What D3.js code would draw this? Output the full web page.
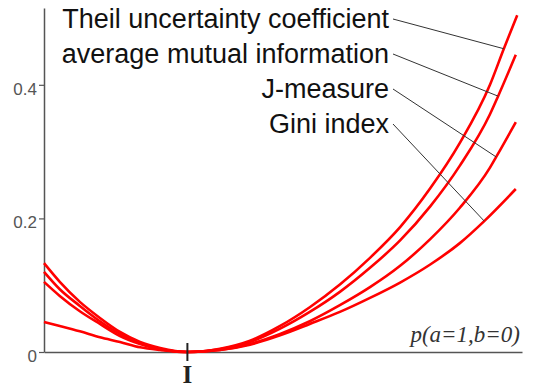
<!DOCTYPE html>
<HTML>
<HEAD>
<TITLE>Measures vs p(a=1,b=0)</TITLE>
<STYLE>
body { margin: 0; background: #fff; }
</STYLE>
<SCRIPT type="text/javascript" src="https://d3js.org/d3.v7.min.js"></SCRIPT>
</HEAD>
<BODY>
<svg id="chart" width="536" height="387"></svg>
<SCRIPT type="text/javascript">
// curve values: [p(a=1,b=0) scaled 0..1, measure]
const theil = [[0,0.133],[0.033,0.105],[0.075,0.075],[0.117,0.051],[0.159,0.030],[0.201,0.015],[0.243,0.006],[0.3,0],
               [0.368,0.005],[0.431,0.017],[0.494,0.039],[0.556,0.067],[0.619,0.101],[0.682,0.141],[0.745,0.187],
               [0.808,0.245],[0.870,0.313],[0.933,0.400],[0.962,0.454],[0.990,0.504]];
const ami   = [[0,0.120],[0.033,0.094],[0.075,0.069],[0.117,0.046],[0.159,0.027],[0.201,0.013],[0.243,0.004],[0.3,0],
               [0.368,0.004],[0.431,0.015],[0.494,0.035],[0.556,0.060],[0.619,0.090],[0.682,0.126],[0.745,0.167],
               [0.808,0.218],[0.870,0.279],[0.933,0.356],[0.950,0.383],[0.987,0.445]];
const jmeas = [[0,0.105],[0.033,0.084],[0.075,0.061],[0.117,0.042],[0.159,0.024],[0.201,0.012],[0.243,0.004],[0.3,0],
               [0.368,0.003],[0.431,0.012],[0.494,0.027],[0.556,0.046],[0.619,0.070],[0.682,0.097],[0.745,0.129],
               [0.808,0.169],[0.870,0.216],[0.933,0.276],[0.946,0.292],[0.987,0.344]];
const gini  = [[0,0.045],[0.033,0.039],[0.075,0.031],[0.117,0.022],[0.159,0.015],[0.201,0.007],[0.243,0.003],[0.3,0],
               [0.368,0.003],[0.431,0.011],[0.494,0.025],[0.556,0.042],[0.619,0.060],[0.682,0.081],[0.745,0.104],
               [0.808,0.131],[0.870,0.163],[0.921,0.196],[0.987,0.244]];

const seriesNames = ["Theil uncertainty coefficient", "average mutual information", "J-measure", "Gini index"];
const leaderAt = [0.962, 0.950, 0.946, 0.921];   // where each label's pointer touches its curve
const yTicks = [0, 0.2, 0.4];
const yTickLabels = ["0", "0.2", "0.4"];
const xMark = 0.3, xMarkLabel = "I";
const xAxisLabel = "p(a=1,b=0)";

const allSeries = [theil, ami, jmeas, gini];

const svg = d3.select("#chart");
const X0 = 44, X1 = 522, Y0 = 352, Y1 = 8;

let xScale = d3.scaleLinear().domain([0, 1]).range([X0, X1]);
let yScale = d3.scaleLinear().domain([0, 0.515]).range([Y0, Y1]);

// y axis
const yAxis = d3.axisLeft(yScale)
                .tickValues(yTicks)
                .tickSize(5)
                .tickSizeOuter(0)
                .tickFormat((d, i) => yTickLabels[i]);
const gy = svg.append("g").attr("transform", `translate(${X0},0)`).call(yAxis);
gy.select(".domain").attr("stroke", "#555").attr("stroke-width", 1.5);
gy.selectAll(".tick line").attr("stroke", "#555").attr("stroke-width", 1.2);
gy.selectAll(".tick text")
  .attr("fill", "#555")
  .attr("font-family", "Liberation Sans, Arial, sans-serif")
  .attr("font-size", 17)
  .attr("x", -7)
  .attr("dy", "0.55em");

// x axis (plain line)
const xAxis = d3.axisBottom(xScale).tickValues([]).tickSizeOuter(0);
const gx = svg.append("g").attr("transform", `translate(0,${Y0})`).call(xAxis);
gx.select(".domain").attr("stroke", "#555").attr("stroke-width", 1.5);

// curves
const line = d3.line()
               .x(d => xScale(d[0]))
               .y(d => yScale(d[1]))
               .curve(d3.curveMonotoneX);

svg.selectAll("path.curve")
   .data(allSeries)
   .enter()
   .append("path")
   .attr("class", "curve")
   .attr("d", line)
   .attr("fill", "none")
   .attr("stroke", "#ff0000")
   .attr("stroke-width", 2.6);

// mark at independence point
svg.append("line")
   .attr("x1", xScale(xMark)).attr("x2", xScale(xMark))
   .attr("y1", Y0 - 9).attr("y2", Y0 + 9)
   .attr("stroke", "#222").attr("stroke-width", 2);
svg.append("text")
   .attr("x", xScale(xMark))
   .attr("y", 383)
   .attr("text-anchor", "middle")
   .attr("font-family", "Liberation Serif, Times New Roman, serif")
   .attr("font-weight", "bold")
   .attr("font-size", 25)
   .attr("fill", "#222")
   .text(xMarkLabel);

// axis title
svg.append("text")
   .attr("x", X1 - 2)
   .attr("y", 342)
   .attr("text-anchor", "end")
   .attr("font-family", "Liberation Serif, Times New Roman, serif")
   .attr("font-style", "italic")
   .attr("font-size", 23)
   .attr("fill", "#333")
   .text(xAxisLabel);

// labels with pointer lines
const LABEL_X = 389, LABEL_Y = 28, LABEL_STEP = 35;
seriesNames.forEach((name, i) => {
    const baseY = LABEL_Y + i * LABEL_STEP;
    const target = allSeries[i].find(p => p[0] === leaderAt[i]);
    svg.append("line")
       .attr("x1", LABEL_X + 4).attr("y1", baseY - 9)
       .attr("x2", xScale(target[0])).attr("y2", yScale(target[1]))
       .attr("stroke", "#333").attr("stroke-width", 1);
    svg.append("text")
       .attr("x", LABEL_X)
       .attr("y", baseY)
       .attr("text-anchor", "end")
       .attr("font-family", "Liberation Sans, Arial, sans-serif")
       .attr("font-size", 27)
       .attr("fill", "#111")
       .text(name);
});
</SCRIPT>
</BODY>
</HTML>
